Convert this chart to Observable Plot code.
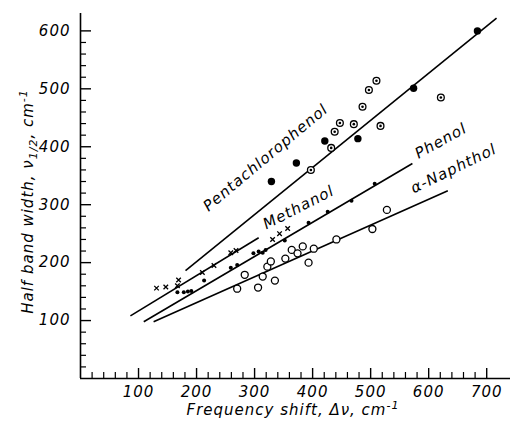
<!DOCTYPE html>
<html><head><meta charset="utf-8">
<script src="https://cdn.jsdelivr.net/npm/d3@7"></script>
<script src="https://cdn.jsdelivr.net/npm/@observablehq/plot@0.6"></script>
<style>body{margin:0;background:#fff}</style>
</head><body><div id="chart"></div>
<script>
// Frequency shift (cm-1), half band width (cm-1)
const pentachlorophenolSolid = [[329,340],[372,372],[421,410],[478,414],[574,501],[684,600]];
const pentachlorophenolRinged = [[397,360],[432,398],[438,426],[447,441],[471,439],[486,469],[497,498],[510,514],[517,436],[621,485]];
const methanol = [[131,156],[147,158],[169,170],[167,160],[210,183],[230,195],[259,217],[268,221],[331,240],[343,250],[357,259]];
const phenol = [[167,149],[178,149],[185,150],[191,151],[213,169],[259,191],[270,196],[298,216],[307,219],[314,217],[319,222],[352,238],[393,269],[426,288],[467,307],[507,336]];
const naphthol = [[270,155],[283,179],[306,157],[314,176],[322,193],[328,202],[335,169],[353,207],[364,222],[374,216],[383,228],[393,200],[402,224],[441,240],[503,258],[528,291]];

// regression lines: [x1, y1, x2, y2]
const fitLines = [
  {name: "Pentachlorophenol", x1: 181, y1: 186, x2: 717, y2: 622},
  {name: "Methanol", x1: 86, y1: 108, x2: 307, y2: 243},
  {name: "Phenol", x1: 109, y1: 98, x2: 572, y2: 371},
  {name: "α-Naphthol", x1: 126, y1: 98, x2: 633, y2: 324}
];
const lineLabels = [
  {text: "Pentachlorophenol", x: 319, y: 381, angle: -40},
  {text: "Methanol", x: 376, y: 295, angle: -27},
  {text: "Phenol", x: 621, y: 410, angle: -29},
  {text: "α-Naphthol", x: 643, y: 362, angle: -26}
];

const xMajor = [100, 200, 300, 400, 500, 600, 700];
const xMinor = d3.range(20, 701, 20).filter(v => v % 100 !== 0);
const yMajor = [100, 200, 300, 400, 500, 600];
const yMinor = d3.range(20, 600, 20).filter(v => v % 100 !== 0);

const W = 511, H = 425, ML = 80, MR = 1, MT = 13, MB = 47;
const FW = W - ML - MR, FH = H - MT - MB;

const px = d => d[0], py = d => d[1];

const plot = Plot.plot({
  width: W, height: H,
  marginLeft: ML, marginRight: MR, marginTop: MT, marginBottom: MB,
  x: {domain: [0, 741]},
  y: {domain: [0, 630]},
  style: "font-family:'DejaVu Sans',sans-serif;font-size:15px;font-style:italic;letter-spacing:1px;background:white;color:black",
  marks: [
    Plot.ruleX([0], {strokeWidth: 1.6}),
    Plot.ruleY([0], {strokeWidth: 1.6}),
    Plot.tickY(yMajor, {y: d => d, insetRight: FW - 11, strokeWidth: 1.4}),
    Plot.tickY(yMinor, {y: d => d, insetRight: FW - 6, strokeWidth: 1.2}),
    Plot.tickX(xMajor, {x: d => d, insetTop: FH - 10, strokeWidth: 1.4}),
    Plot.tickX(xMinor, {x: d => d, insetTop: FH - 6, strokeWidth: 1.2}),
    Plot.axisX(xMajor, {tickSize: 0, tickPadding: 8, label: null}),
    Plot.axisY(yMajor, {tickSize: 0, tickPadding: 10, label: null}),
    Plot.link(fitLines, {x1: "x1", y1: "y1", x2: "x2", y2: "y2", stroke: "black", strokeWidth: 1.6}),
    Plot.dot(naphthol, {x: px, y: py, r: 3.5, stroke: "black", strokeWidth: 1.3, fill: "white"}),
    Plot.dot(phenol, {x: px, y: py, r: 2, fill: "black"}),
    Plot.dot(methanol, {x: px, y: py, r: 2.2, symbol: "times", stroke: "black", strokeWidth: 1.3}),
    Plot.dot(pentachlorophenolRinged, {x: px, y: py, r: 3.4, stroke: "black", strokeWidth: 1.3, fill: "white"}),
    Plot.dot(pentachlorophenolRinged, {x: px, y: py, r: 1.3, fill: "black"}),
    Plot.dot(pentachlorophenolSolid, {x: px, y: py, r: 3.7, fill: "black"}),
    Plot.text(lineLabels, {x: "x", y: "y", text: "text", rotate: "angle", fontSize: 15, textAnchor: "middle"})
  ]
});
document.getElementById("chart").append(plot);

// axis titles with sub/superscripts
const svg = d3.select(plot);
const yt = svg.append("text")
  .attr("transform", `translate(33,${MT + FH / 2 + 6}) rotate(-90)`)
  .attr("text-anchor", "middle").attr("font-size", 15);
yt.append("tspan").text("Half band width, ν");
yt.append("tspan").attr("font-size", 11).attr("dy", 4).text("1/2");
yt.append("tspan").attr("dy", -4).text(", cm");
yt.append("tspan").attr("font-size", 11).attr("dy", -6).text("-1");

const xt = svg.append("text")
  .attr("transform", `translate(${ML + FW / 2 - 2},${H - 10})`)
  .attr("text-anchor", "middle").attr("font-size", 15);
xt.append("tspan").text("Frequency shift, Δν, cm");
xt.append("tspan").attr("font-size", 11).attr("dy", -6).text("-1");
</script>
</body></html>
